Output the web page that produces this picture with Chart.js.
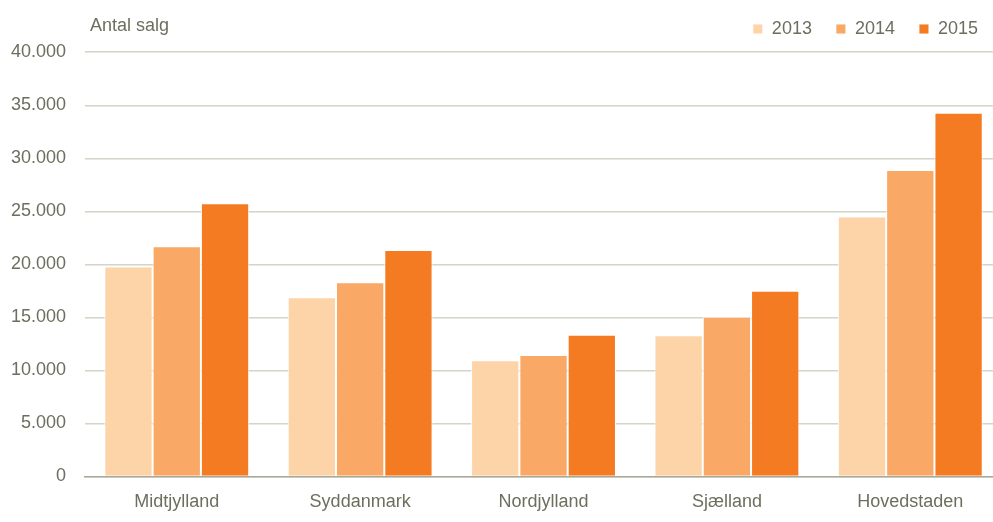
<!DOCTYPE html>
<html>
<head>
<meta charset="utf-8">
<script src="https://cdn.jsdelivr.net/npm/chart.js@4/dist/chart.umd.min.js"></script>
<style>
html,body{margin:0;padding:0;background:#fff;overflow:hidden;}
#wrap{width:1002px;height:522px;position:relative;}
</style>
</head>
<body>
<div id="wrap"><canvas id="c"></canvas></div>
<script>
const categories = ['Midtjylland','Syddanmark','Nordjylland','Sjælland','Hovedstaden'];
const seriesNames = ['2013','2014','2015'];
const values2013 = [19800, 16900, 10950, 13300, 24500];
const values2014 = [21700, 18300, 11450, 15050, 28900];
const values2015 = [25750, 21350, 13350, 17500, 34300];
const colors = ['#FCD4A8','#F9A866','#F47B22'];
const yTicks = [0,5000,10000,15000,20000,25000,30000,35000,40000];
const yTitle = 'Antal salg';

const FONT = "'Liberation Sans',Arial,sans-serif";
const TEXT = '#6E6E5E';
const FS = 18;

function fmt(v){ return String(v).replace(/\B(?=(\d{3})+(?!\d))/g,'.'); }

const titlePlugin = {
  id:'ytitle',
  afterDraw(chart){
    const ctx = chart.ctx;
    ctx.save();
    ctx.font = FS + 'px ' + FONT;
    ctx.fillStyle = TEXT;
    ctx.textAlign = 'left';
    ctx.textBaseline = 'middle';
    ctx.fillText(yTitle, chart.chartArea.left + 5, 26);
    ctx.restore();
  }
};

new Chart(document.getElementById('c'), {
  type:'bar',
  data:{
    labels:categories,
    datasets:[values2013,values2014,values2015].map((d,i)=>({
      label:seriesNames[i], data:d, backgroundColor:colors[i],
      borderColor:'rgba(255,255,255,0.9)', borderWidth:1,
      categoryPercentage:0.79, barPercentage:1.0
    }))
  },
  options:{
    responsive:true, maintainAspectRatio:false, animation:false,
    layout:{padding:{left:-8,right:0,top:-4,bottom:-6}},
    plugins:{
      legend:{position:'top', align:'end',
        labels:{boxWidth:10, boxHeight:10, padding:24, color:TEXT, font:{family:FONT,size:FS}}},
      tooltip:{enabled:false}
    },
    scales:{
      x:{grid:{display:false, drawTicks:false},
         border:{display:true,color:'#A9A99A',width:1.5},
         ticks:{color:TEXT,font:{family:FONT,size:FS},padding:15}},
      y:{min:0,max:40400,
         afterBuildTicks(ax){ ax.ticks = yTicks.map(v=>({value:v})); },
         grid:{color:'#D4D4C8',lineWidth:1.5,drawTicks:false},
         border:{display:false},
         ticks:{color:TEXT,font:{family:FONT,size:FS},padding:19,callback:v=>fmt(v)}}
    }
  },
  plugins:[titlePlugin]
});
</script>
</body>
</html>
